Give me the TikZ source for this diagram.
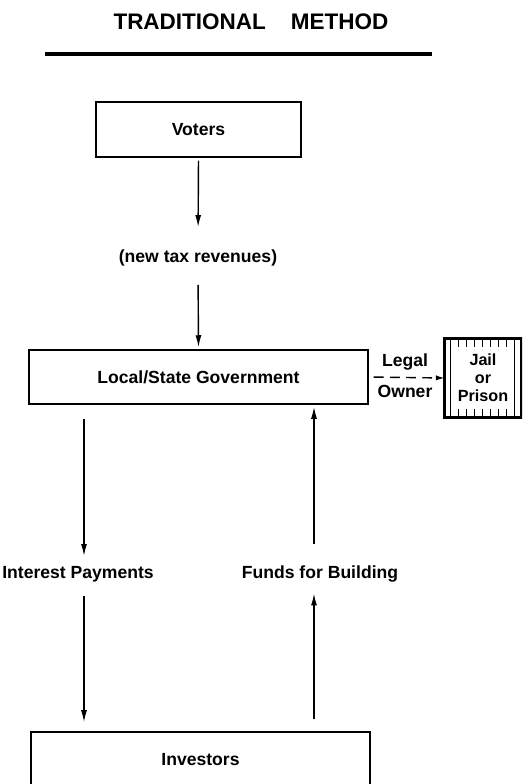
\documentclass[tikz,border=0pt]{standalone}
\usepackage{fontspec}
\setmainfont{Liberation Sans}
\usetikzlibrary{arrows.meta,positioning,calc}
\tikzset{
>={Latex[length=3mm,width=1.5mm]},
  box/.style={
    rectangle,
    draw=black, line width=1.1pt,
    inner sep=0pt,
    font=\bfseries\fontsize{12.5}{15}\selectfont},
  lbl/.style={font=\bfseries\fontsize{12.5}{15}\selectfont, inner sep=0pt},
  heading/.style={font=\bfseries\fontsize{16}{19}\selectfont, inner sep=0pt},
  flow/.style={draw, line width=1pt, ->},
  deed/.style={draw, line width=1pt, dash pattern=on 7pt off 4.5pt,
    -{Latex[length=2.2mm,width=1.3mm]}},
}

\begin{document}
\begin{tikzpicture}[x=0.025cm,y=-0.025cm]
    \clip (0,0) rectangle (522,784);

    % title and rule
    \node [heading](head) at (251,22){TRADITIONAL\hspace{17.8pt}METHOD};
    \coordinate (ruleL) at (45,54);
    \coordinate (ruleR) at (432,54);
    \draw[line width=2.4pt] (ruleL) -- (ruleR);

    % boxes and labels
    \node [box, minimum width=5.125cm, minimum height=1.375cm](voters) at (198.5,129.5){Voters};
    \node [lbl](taxes) at (198,258){(new tax revenues)};
    \node [box, minimum width=8.475cm, minimum height=1.35cm](gov) at (198.5,377){Local/State Government};
    \node [box, minimum width=8.475cm, minimum height=1.4cm](inv) at (200.5,760){Investors};
    \node [lbl](interest) at (78,574){Interest Payments};
    \node [lbl](funds) at (320,574){Funds for Building};
    \node [lbl](legal) at (405,362){Legal};
    \node [lbl](owner) at (405,391){Owner};

    % jail with bars
    \node [minimum width=1.9cm, minimum height=1.95cm, inner sep=0pt](jail) at (483,378){};
    \foreach \i in {0,...,8}
        \draw[line width=0.6pt] ($(jail.north west)+(6+8*\i,0)$) -- ($(jail.south west)+(6+8*\i,0)$);
    \fill[white] ($(jail.north west)+(8,8)$) rectangle ($(jail.south east)+(-8,-8)$);
    \node [lbl, align=center, font=\bfseries\fontsize{11.5}{12.8}\selectfont](jailtext) at (jail){Jail\\or\\Prison};
    \draw[line width=2.5pt] (jail.north west) rectangle (jail.south east);

    % arrow columns
    \coordinate (colL) at (84,0);
    \coordinate (colR) at (314,0);

    \draw[flow, shorten <=2pt, shorten >=16pt] (voters.south) -- (taxes.north);
    \draw[flow, shorten <=13pt, shorten >=1.4pt] (taxes.south) -- (gov.north);
    \draw[deed, shorten <=3.5pt] (gov.east) -- (jail.west);
    \draw[flow, shorten <=10pt, shorten >=7pt] (gov.south -| colL) -- (interest.north -| colL);
    \draw[flow, shorten <=10pt, shorten >=6.4pt] (interest.south -| colL) -- (inv.north -| colL);
    \draw[flow, shorten <=8.5pt, shorten >=7.8pt] (inv.north -| colR) -- (funds.south -| colR);
    \draw[flow, shorten <=15.6pt, shorten >=1.4pt] (funds.north -| colR) -- (gov.south -| colR);

\end{tikzpicture}
\end{document}
